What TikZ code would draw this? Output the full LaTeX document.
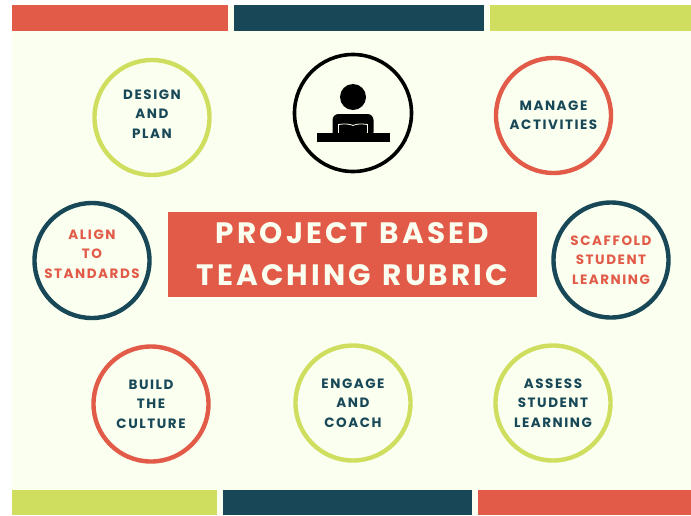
\documentclass[tikz,border=0pt]{standalone}
\usepackage{fontspec}
\newfontfamily\lblfont[LetterSpace=11.5]{Poppins}
\newfontfamily\titlefont[LetterSpace=10.5,WordSpace=1.25]{Poppins}
\definecolor{bgcream}{HTML}{FAFFEF}
\definecolor{coral}{HTML}{E25A48}
\definecolor{teal}{HTML}{184858}
\definecolor{lime}{HTML}{D0DE60}
\tikzset{
  x=1pt,y=-1pt,
  lbl/.style={align=center,inner sep=0pt,font=\lblfont\bfseries\fontsize{13.5}{19.3}\selectfont},
  ring/.style={circle,draw=#1,line width=4.4pt,minimum size=115pt,inner sep=0pt,lbl},
  band/.style={fill=#1,draw=none},
}
\begin{document}
\begin{tikzpicture}
\useasboundingbox (0,0) rectangle (691,515);
\fill[white] (0,0) rectangle (691,515);
\fill[bgcream] (12,5) rectangle (691,515);
\fill[band=coral] (12,5) rectangle (228,31);
\fill[band=teal] (234,5) rectangle (484,31);
\fill[band=lime] (490,5) rectangle (691,31);
\fill[band=lime] (12,490) rectangle (217,515);
\fill[band=teal] (223,490) rectangle (472,515);
\fill[band=coral] (478,490) rectangle (691,515);
\node[ring=lime] (design) at (152,117.5) {};
\node[lbl,text=teal,yshift=3.5pt] (designtext) at (design) {DESIGN\\AND\\PLAN};
\node[ring=black,line width=3.6pt,minimum size=117pt] (icon) at (353,113) {};
\node[ring=coral,text=teal] (manage) at (553.5,115.5) {MANAGE\\ACTIVITIES};
\node[ring=teal] (align) at (92,260.5) {};
\node[lbl,text=coral,yshift=6.5pt] (aligntext) at (align) {ALIGN\\TO\\STANDARDS};
\node[ring=teal,text=coral] (scaffold) at (611,260) {SCAFFOLD\\STUDENT\\LEARNING};
\node[ring=coral,text=teal] (build) at (151,404) {BUILD\\THE\\CULTURE};
\node[ring=lime,text=teal] (engage) at (353,403) {ENGAGE\\AND\\COACH};
\node[ring=lime,text=teal] (assess) at (553,403) {ASSESS\\STUDENT\\LEARNING};
\node[fill=coral,text=bgcream,minimum width=369pt,minimum height=85pt,inner sep=0pt,align=center,font=\titlefont\bfseries\fontsize{29.5}{42}\selectfont] (title) at (352.5,254) {PROJECT BASED\\TEACHING RUBRIC};
% desk icon
\fill[black] (353,97) circle (13);
\fill[black,rounded corners=6pt] (332.5,138) -- (332.5,114) -- (373.5,114) -- (373.5,138) -- cycle;
\draw[bgcream,line width=0.8pt] (338.5,133) -- (338.5,124.5) .. controls (345,123.5) and (350,124) .. (353,125.5) .. controls (356,124) and (361,123.5) .. (367.5,124.5) -- (367.5,133);
\fill[black] (316.5,133) rectangle (389.5,142);
\end{tikzpicture}
\end{document}
